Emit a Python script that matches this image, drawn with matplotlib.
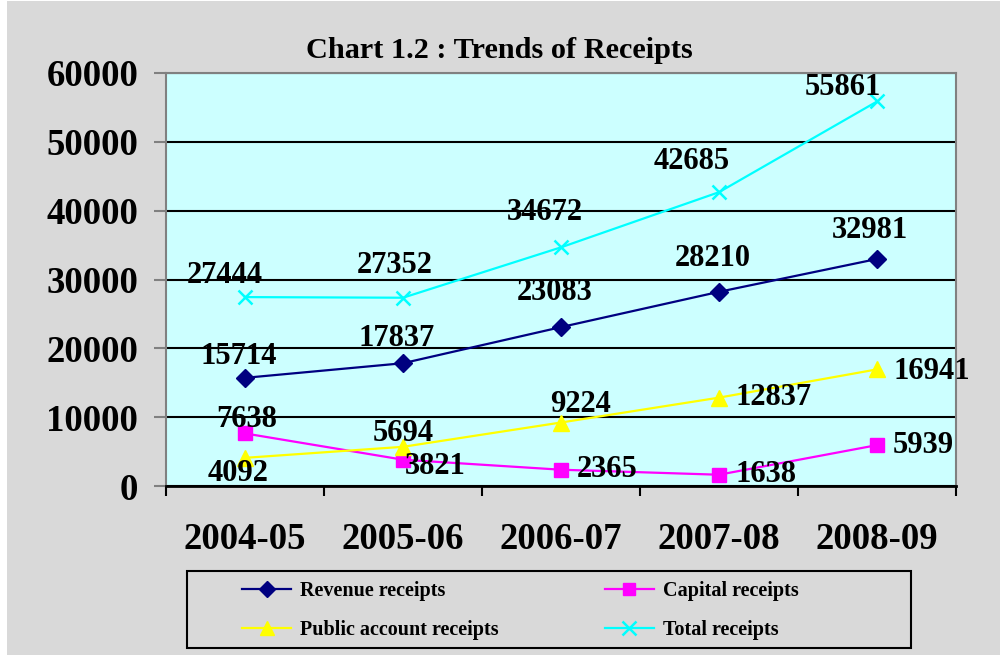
import matplotlib
matplotlib.use("Agg")
import matplotlib.pyplot as plt
from matplotlib.patches import Rectangle

categories = ["2004-05", "2005-06", "2006-07", "2007-08", "2008-09"]
revenue = [15714, 17837, 23083, 28210, 32981]
capital = [7638, 3821, 2365, 1638, 5939]
public = [4092, 5694, 9224, 12837, 16941]
total = [27444, 27352, 34672, 42685, 55861]
series_names = ["Revenue receipts", "Capital receipts", "Public account receipts", "Total receipts"]
title = "Chart 1.2 : Trends of Receipts"
yticks = [0, 10000, 20000, 30000, 40000, 50000, 60000]

# label offsets in pixels (dx, dy, ha)
rev_off = [(-6, 21, "center"), (-6, 25, "center"), (-6, 35, "center"), (-6, 33, "center"), (-7, 28, "center")]
cap_off = [(2, 14, "center"), (2, -7, "left"), (16, 0, "left"), (16, 0, "left"), (16, 0, "left")]
pub_off = [(-7, -16, "center"), (0, 13, "center"), (20, 18, "center"), (16, 0, "left"), (16, -2, "left")]
tot_off = [(-20, 22, "center"), (-8, 32, "center"), (-16, 35, "center"), (-27, 31, "center"), (-34, 14, "center")]

plt.rcParams['font.family'] = ['Liberation Serif', 'DejaVu Serif']
plt.rcParams['font.weight'] = 'bold'

fig = plt.figure(figsize=(10, 6.55), dpi=100, facecolor="#d9d9d9")
# white border strips (left and top)
fig.patches.append(Rectangle((0, 0), 7/1000, 1, transform=fig.transFigure,
                             facecolor="white", edgecolor="none", zorder=-5))
fig.patches.append(Rectangle((0, 654/655), 1, 1/655, transform=fig.transFigure,
                             facecolor="white", edgecolor="none", zorder=-5))

ax = fig.add_axes([0.166, 169/655, 0.79, 413/655])
ax.set_zorder(2)
ax.set_facecolor("#ccffff")
x = list(range(len(categories)))

styles = [
    (revenue, "#000080", "D", 9, rev_off),
    (capital, "#ff00ff", "s", 10, cap_off),
    (public, "#ffff00", "^", 11, pub_off),
    (total, "#00ffff", "x", 10.5, tot_off),
]
handles = []
for (vals, col, mk, ms, offs), name in zip(styles, series_names):
    h, = ax.plot(x, vals, color=col, marker=mk, markersize=ms, linewidth=1.6,
                 markeredgewidth=1.8 if mk == "x" else 1, markeredgecolor=col,
                 markerfacecolor=col, label=name, zorder=3)
    handles.append(h)
    for xi, v, (dx, dy, ha) in zip(x, vals, offs):
        ax.annotate(f"{v}", (xi, v), xytext=(dx, dy), textcoords="offset pixels",
                    ha=ha, va="center", fontsize=22, fontweight="bold", color="black", zorder=4)

ax.set_xlim(-0.5, len(categories) - 0.5)
ax.set_ylim(0, 60000)
ax.set_yticks(yticks)
ax.set_yticklabels([str(t) for t in yticks], fontsize=26.5, fontweight="bold")
ax.set_xticks(x)
ax.set_xticklabels(categories, fontsize=26.5, fontweight="bold")
ax.set_xticks([i - 0.5 for i in range(len(categories) + 1)], minor=True)
ax.tick_params(axis="x", which="major", length=0, pad=26)
ax.tick_params(axis="x", which="minor", length=7, width=1.5, color="black", direction="out")
ax.tick_params(axis="y", length=9, width=1.5, color="#808080", pad=11, direction="out")

ax.yaxis.grid(True, color="black", linewidth=1.5)
ax.xaxis.grid(False)
for s in ["left", "top", "right"]:
    ax.spines[s].set_color("#808080")
    ax.spines[s].set_linewidth(1.5)
ax.spines["bottom"].set_color("black")
ax.spines["bottom"].set_linewidth(2)

fig.text(0.499, 1 - 50/655, title, ha="center", va="center", fontsize=21.8, fontweight="bold")

# legend frame
fig.patches.append(Rectangle((187/1000, 1 - 648/655), (911 - 187)/1000, (648 - 571)/655,
                             transform=fig.transFigure, facecolor="none", edgecolor="black",
                             linewidth=1.5, zorder=1))
order = [handles[0], handles[2], handles[1], handles[3]]
leg = fig.legend(order, [h.get_label() for h in order], loc="upper left",
                 bbox_to_anchor=(242/1000, 1 - 581/655), ncol=2, frameon=False,
                 prop={"weight": "bold", "size": 14.5}, handlelength=2.45,
                 handletextpad=0.45, columnspacing=5.25, labelspacing=0.95,
                 borderpad=0, borderaxespad=0, numpoints=1, markerscale=0.9)

fig.savefig("out.png", dpi=100, facecolor=fig.get_facecolor())
